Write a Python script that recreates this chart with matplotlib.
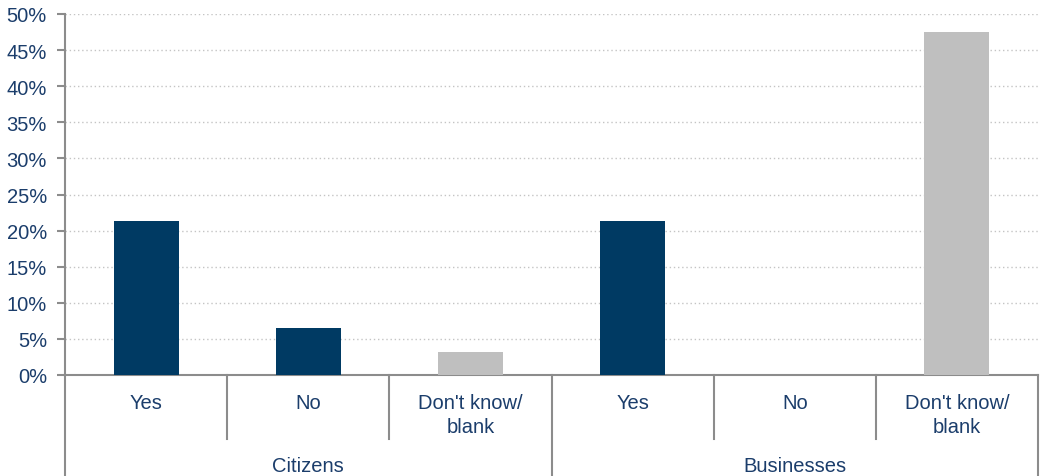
import matplotlib.pyplot as plt
from matplotlib.ticker import FuncFormatter, MultipleLocator

plt.rcParams['font.family'] = ['Liberation Sans', 'DejaVu Sans']

answers = ["Yes", "No", "Don't know/\nblank", "Yes", "No", "Don't know/\nblank"]
groups = ["Citizens", "Businesses"]
values = [21.3, 6.5, 3.2, 21.3, 0.0, 47.5]
bar_colors = ["#003A63", "#003A63", "#BFBFBF", "#003A63", "#003A63", "#BFBFBF"]

text_color = "#1B3D6B"
line_color = "#8C8C8C"
fs = 14.5

fig = plt.figure(figsize=(10.4, 4.77), dpi=100)
ax = fig.add_axes([65 / 1040, 1 - 376 / 477, 973 / 1040, 361 / 477])

x = list(range(len(values)))
ax.bar(x, values, width=0.4, color=bar_colors, zorder=3)

ax.set_xlim(-0.5, len(values) - 0.5)
ax.set_ylim(0, 50)
ax.yaxis.set_major_locator(MultipleLocator(5))
ax.yaxis.set_major_formatter(FuncFormatter(lambda v, p: f"{v:.0f}%"))
ax.tick_params(axis='y', labelsize=fs, labelcolor=text_color, color=line_color,
               length=6, width=1.5, pad=7)
ax.set_xticks([])
ax.grid(axis='y', linestyle=(0, (1, 2)), color="#C4C4C4", linewidth=1.0, zorder=0)

for s in ["top", "right"]:
    ax.spines[s].set_visible(False)
ax.spines["left"].set_color(line_color)
ax.spines["bottom"].set_color(line_color)
ax.spines["left"].set_linewidth(1.5)
ax.spines["bottom"].set_linewidth(1.5)

tr = ax.get_xaxis_transform()
# category labels and separators
for i, lab in enumerate(answers):
    ax.text(i, -0.05, lab, transform=tr, ha='center', va='top', fontsize=fs,
            color=text_color, linespacing=1.3)
n = len(answers) // len(groups)
for i in range(len(answers) + 1):
    edge = i - 0.5
    if i % n == 0:
        ax.plot([edge, edge], [0, -0.285], transform=tr, color=line_color,
                lw=1.5, clip_on=False)
    else:
        ax.plot([edge, edge], [0, -0.177], transform=tr, color=line_color,
                lw=1.5, clip_on=False)
for g, name in enumerate(groups):
    ax.text(g * n + (n - 1) / 2, -0.25, name, transform=tr, ha='center',
            va='center', fontsize=fs, color=text_color)

fig.savefig("out.png", dpi=100)
